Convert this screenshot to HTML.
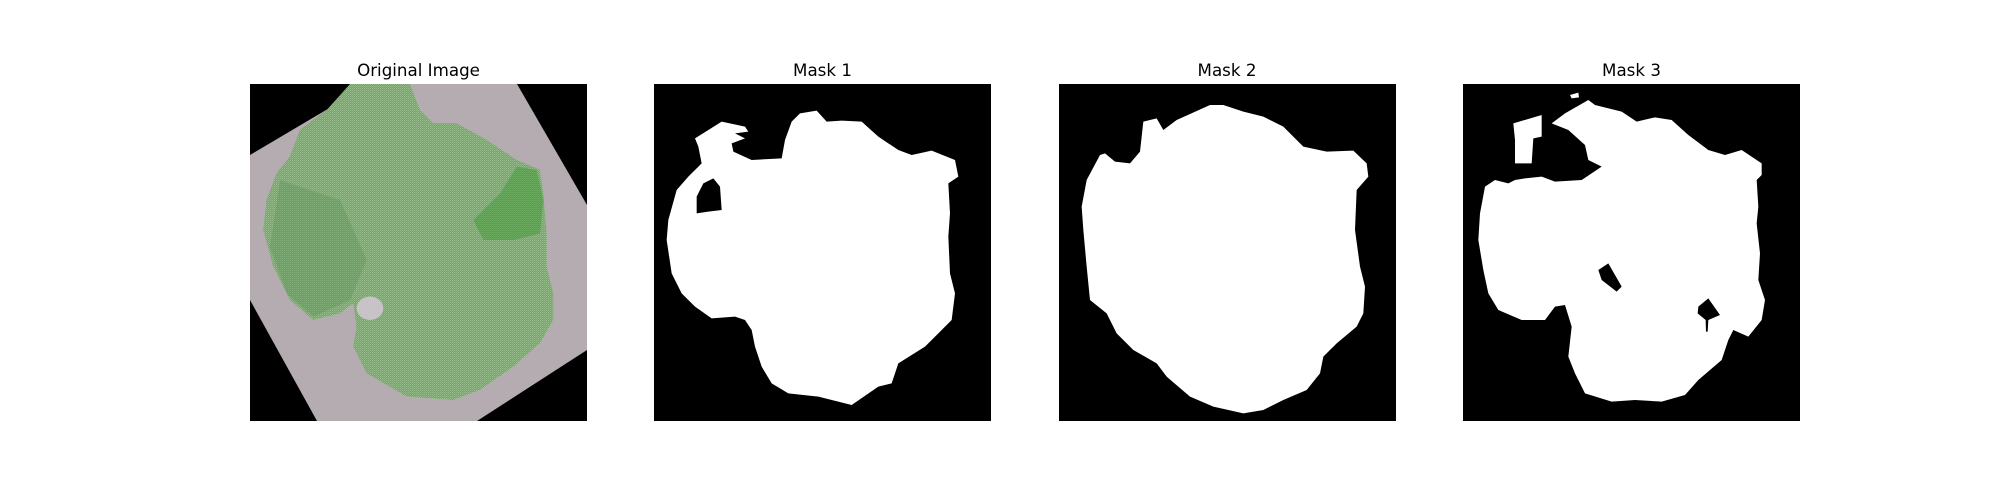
<!DOCTYPE html>
<html><head><meta charset="utf-8"><style>
html,body{margin:0;padding:0;background:#fff;width:2000px;height:500px;overflow:hidden}
text{font-family:"DejaVu Sans","Liberation Sans",sans-serif;font-size:16.7px;fill:#000}
</style></head><body>
<svg width="2000" height="500" viewBox="0 0 2000 500" xmlns="http://www.w3.org/2000/svg">
<defs>
<pattern id="speck" width="6" height="6" patternUnits="userSpaceOnUse">
<rect width="6" height="6" fill="#6a9c64"/>
<rect x="0" y="0" width="2" height="2" fill="#d2eac2"/>
<rect x="3" y="3" width="2" height="1.5" fill="#c2e0b0"/>
<rect x="4" y="0" width="1" height="1" fill="#e6f4dc"/>
<rect x="1" y="4" width="1" height="1" fill="#b8d8a6"/>
</pattern>
</defs>
<g>
<text x="418.5" y="76" text-anchor="middle">Original Image</text>
<rect x="250" y="84" width="337" height="337" fill="#000"/>
<polygon points="250,155 370,84 517,84 587,205 587,350 477,421 317,421 250,300" fill="#b4acb0"/>
<g transform="translate(240,60) scale(0.33333)">
<path fill="url(#speck)" d="M180,210 L260,150 L330,72 L510,72 L540,150 L580,190 L650,190 L740,240 L830,300 L900,330 L910,400 L920,520 L920,620 L940,700 L940,780 L900,850 L820,920 L720,990 L640,1020 L500,1010 L380,940 L340,860 L350,800 L340,730 L300,760 L220,780 L150,720 L100,620 L70,510 L80,420 L110,340 L150,290 Z"/>
<path fill="#3f9a36" opacity="0.5" d="M700,480 L780,400 L830,320 L890,330 L910,420 L900,520 L820,540 L730,540 Z"/>
<path fill="#4f8a50" opacity="0.3" d="M120,360 L300,420 L380,600 L330,720 L220,770 L140,700 L90,560 Z"/>
<ellipse cx="390" cy="745" rx="40" ry="35" fill="#c7c3c6"/>
</g>
</g>
<g>
<text x="822.5" y="76" text-anchor="middle">Mask 1</text>
<rect x="654" y="84" width="337" height="337" fill="#000"/>
<g transform="translate(645,80) scale(0.33333)">
<path fill="#fff" d="M150,175 L230,125 L300,140 L310,155 L270,160 L300,175 L260,190 L265,215 L320,240 L410,235 L420,180 L440,125 L465,100 L515,92 L545,125 L590,122 L650,125 L700,170 L760,210 L800,225 L860,212 L930,240 L940,290 L910,310 L915,400 L910,470 L915,580 L930,640 L920,720 L880,760 L840,800 L760,850 L740,910 L700,920 L620,975 L520,950 L430,940 L380,910 L350,860 L330,800 L320,750 L300,720 L270,710 L200,715 L150,680 L110,640 L80,580 L65,480 L70,420 L95,330 L130,290 L170,250 L160,200 Z"/>
<path fill="#000" d="M175,310 L205,295 L225,320 L230,390 L190,395 L155,400 L155,350 Z"/>
</g>
</g>
<g>
<text x="1227" y="76" text-anchor="middle">Mask 2</text>
<rect x="1059" y="84" width="337" height="337" fill="#000"/>
<g transform="translate(1050,80) scale(0.33333)">
<path fill="#fff" d="M150,225 L165,220 L195,245 L240,250 L270,215 L280,125 L320,115 L340,150 L380,120 L480,75 L520,75 L580,95 L640,110 L700,140 L760,200 L830,215 L910,212 L950,250 L955,290 L920,330 L915,450 L930,560 L945,620 L940,700 L920,740 L860,790 L820,830 L810,880 L770,930 L700,960 L640,990 L580,1000 L490,980 L420,950 L350,890 L320,850 L250,810 L200,760 L170,700 L120,660 L110,560 L100,450 L95,380 L110,300 Z"/>
</g>
</g>
<g>
<text x="1631.5" y="76" text-anchor="middle">Mask 3</text>
<rect x="1463" y="84" width="337" height="337" fill="#000"/>
<g transform="translate(1455,80) scale(0.33333)">
<path fill="#fff" d="M90,320 L120,300 L160,310 L180,300 L210,295 L260,290 L300,305 L380,300 L440,260 L400,240 L390,195 L340,150 L290,130 L330,100 L400,60 L420,75 L500,95 L545,125 L600,112 L650,120 L700,165 L760,210 L810,225 L860,210 L920,250 L920,285 L905,300 L910,380 L905,430 L915,520 L910,600 L930,660 L920,720 L880,770 L835,750 L820,780 L800,840 L730,900 L690,945 L620,965 L540,960 L470,965 L390,940 L360,880 L340,830 L350,740 L330,675 L300,680 L270,720 L200,720 L130,690 L100,640 L85,570 L70,480 L75,400 Z"/>
<path fill="#fff" d="M175,130 L260,105 L260,170 L235,175 L230,250 L180,250 L180,180 Z"/>
<path fill="#fff" d="M345,45 L370,38 L372,52 L350,55 Z"/>
<path fill="#000" d="M430,570 L460,550 L500,620 L485,635 L440,600 Z"/>
<path fill="#000" d="M730,680 L760,655 L795,705 L760,720 L758,755 L753,755 L752,720 L728,700 Z"/>
</g>
</g>
</svg>
</body></html>
